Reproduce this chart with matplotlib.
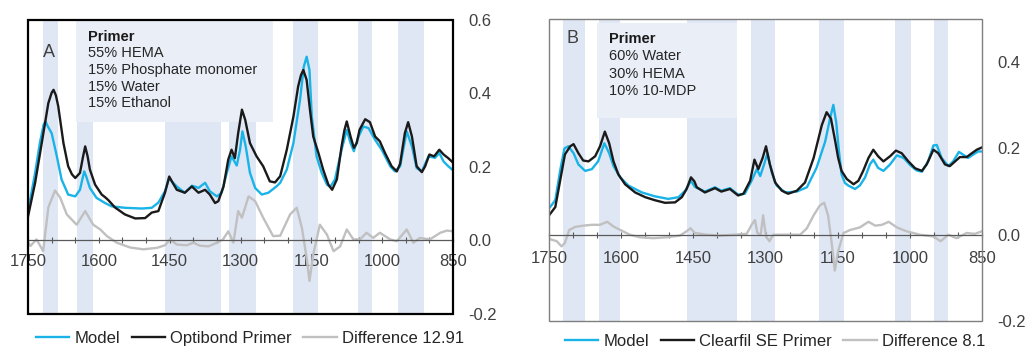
import matplotlib
matplotlib.use('Agg')
import matplotlib.pyplot as plt
from matplotlib.patches import Rectangle

plt.rcParams['font.family'] = ['Liberation Sans', 'DejaVu Sans']

# ---- panel A : Optibond ----
a_model_wn = [1750, 1748, 1735, 1725, 1717, 1713, 1708, 1700, 1689, 1679, 1665, 1650, 1640, 1634, 1631, 1627,
              1619, 1605, 1587, 1573, 1545, 1509, 1488, 1474, 1460, 1451, 1445, 1435, 1418, 1403, 1395, 1389,
              1375, 1365, 1350, 1340, 1329, 1319, 1308, 1301, 1296, 1289, 1280, 1269, 1255, 1241, 1224, 1216,
              1202, 1188, 1174, 1166, 1160, 1154, 1149, 1139, 1128, 1117, 1110, 1100, 1086, 1075, 1067, 1060,
              1050, 1040, 1029, 1015, 1001, 983, 973, 962, 948, 937, 927, 916, 902, 888, 879, 870, 860, 850]
a_model = [0.08, 0.093, 0.184, 0.265, 0.315, 0.324, 0.31, 0.292, 0.229, 0.166, 0.125, 0.12, 0.138, 0.172, 0.188, 0.175,
           0.143, 0.116, 0.102, 0.093, 0.089, 0.087, 0.089, 0.103, 0.134, 0.17, 0.16, 0.147, 0.13, 0.149, 0.146, 0.143,
           0.157, 0.134, 0.12, 0.13, 0.184, 0.229, 0.204, 0.247, 0.297, 0.256, 0.184, 0.143, 0.125, 0.13, 0.147, 0.157,
           0.193, 0.265, 0.383, 0.473, 0.5, 0.464, 0.337, 0.229, 0.184, 0.152, 0.146, 0.166, 0.247, 0.301, 0.265,
           0.243, 0.283, 0.31, 0.306, 0.274, 0.247, 0.202, 0.188, 0.202, 0.297, 0.256, 0.197, 0.188, 0.229, 0.225,
           0.238, 0.215, 0.202, 0.191]

a_exp_wn = [1750, 1746, 1735, 1721, 1707, 1700, 1696, 1691, 1686, 1675, 1665, 1657, 1650, 1640, 1634, 1629, 1624,
            1619, 1608, 1594, 1587, 1580, 1566, 1545, 1523, 1502, 1488, 1474, 1460, 1451, 1445, 1435, 1418, 1403,
            1389, 1375, 1365, 1354, 1347, 1336, 1326, 1319, 1312, 1305, 1297, 1290, 1280, 1266, 1252, 1238, 1227,
            1216, 1202, 1188, 1178, 1172, 1167, 1160, 1153, 1146, 1135, 1125, 1114, 1106, 1096, 1086, 1080, 1075,
            1067, 1060, 1054, 1048, 1036, 1026, 1015, 1005, 994, 980, 969, 962, 952, 945, 937, 927, 916, 909, 900,
            890, 879, 870, 860, 851]
a_exp = [0.066, 0.09, 0.157, 0.265, 0.374, 0.402, 0.41, 0.395, 0.365, 0.265, 0.202, 0.18, 0.17, 0.184, 0.225, 0.256,
         0.23, 0.193, 0.152, 0.125, 0.118, 0.11, 0.09, 0.071, 0.06, 0.061, 0.076, 0.08, 0.13, 0.174, 0.16, 0.138,
         0.13, 0.147, 0.13, 0.138, 0.125, 0.102, 0.107, 0.147, 0.22, 0.247, 0.224, 0.292, 0.356, 0.328, 0.265, 0.229,
         0.202, 0.161, 0.158, 0.175, 0.247, 0.337, 0.419, 0.45, 0.464, 0.437, 0.356, 0.283, 0.238, 0.193, 0.152,
         0.138, 0.166, 0.256, 0.3, 0.324, 0.283, 0.252, 0.265, 0.301, 0.33, 0.322, 0.283, 0.27, 0.238, 0.202, 0.188,
         0.209, 0.292, 0.322, 0.283, 0.202, 0.186, 0.202, 0.234, 0.229, 0.247, 0.234, 0.224, 0.213]

a_diff_wn = [1750, 1745, 1732, 1718, 1707, 1693, 1682, 1668, 1647, 1629, 1612, 1597, 1583, 1562, 1534, 1506, 1477,
             1460, 1449, 1435, 1414, 1400, 1386, 1368, 1350, 1337, 1326, 1315, 1305, 1297, 1283, 1269, 1252, 1231,
             1216, 1195, 1181, 1170, 1160, 1154, 1146, 1132, 1117, 1103, 1089, 1075, 1061, 1047, 1033, 1019, 1005,
             983, 969, 948, 934, 920, 899, 877, 863, 850]
a_diff = [-0.005, -0.015, 0.003, -0.029, 0.09, 0.136, 0.117, 0.071, 0.043, 0.08, 0.043, 0.03, 0.012, -0.006, -0.019,
          -0.024, -0.02, -0.013, 0.003, -0.011, -0.013, -0.006, -0.014, -0.016, -0.006, 0.003, 0.025, -0.006, 0.08,
          0.062, 0.12, 0.107, 0.062, 0.012, 0.013, 0.071, 0.089, 0.034, -0.047, -0.11, -0.038, 0.043, 0.016, -0.029,
          -0.016, 0.03, 0.003, 0.003, 0.021, 0.007, 0.021, 0.003, -0.002, 0.03, -0.006, 0.007, 0.003, 0.021, 0.027,
          0.025]

a_bands = [(1718, 1686), (1646, 1612), (1460, 1341), (1324, 1267), (1189, 1136), (1051, 1021), (966, 911)]
a_labels = ['Model', 'Optibond Primer', 'Difference 12.91']
a_text = ['55% HEMA', '15% Phosphate monomer', '15% Water', '15% Ethanol']

# ---- panel B : Clearfil SE ----
b_model_wn = [1750, 1737, 1727, 1718, 1710, 1699, 1689, 1675, 1661, 1648, 1635, 1625, 1616, 1602, 1585, 1557, 1530,
              1502, 1481, 1467, 1455, 1447, 1426, 1405, 1392, 1374, 1357, 1343, 1329, 1318, 1311, 1303, 1296, 1287,
              1277, 1259, 1235, 1214, 1194, 1176, 1166, 1159, 1153, 1148, 1142, 1135, 1128, 1114, 1104, 1093, 1083,
              1076, 1066, 1055, 1041, 1027, 1013, 999, 986, 975, 962, 951, 944, 934, 920, 910, 898, 887, 879, 868,
              858, 850]
b_model = [0.061, 0.08, 0.148, 0.2, 0.205, 0.189, 0.163, 0.148, 0.152, 0.17, 0.212, 0.189, 0.159, 0.133, 0.114, 0.098,
           0.089, 0.083, 0.087, 0.102, 0.125, 0.111, 0.1, 0.11, 0.102, 0.108, 0.093, 0.095, 0.125, 0.152, 0.136, 0.163,
           0.189, 0.144, 0.114, 0.098, 0.1, 0.11, 0.155, 0.216, 0.269, 0.301, 0.26, 0.2, 0.14, 0.12, 0.114, 0.106,
           0.114, 0.133, 0.163, 0.174, 0.155, 0.148, 0.163, 0.184, 0.178, 0.161, 0.149, 0.146, 0.17, 0.207, 0.208,
           0.178, 0.159, 0.17, 0.192, 0.184, 0.178, 0.186, 0.193, 0.193]

b_exp_wn = [1750, 1737, 1727, 1717, 1706, 1699, 1689, 1679, 1668, 1654, 1644, 1634, 1625, 1616, 1606, 1592, 1571,
            1550, 1530, 1509, 1488, 1474, 1464, 1455, 1448, 1443, 1426, 1405, 1392, 1374, 1357, 1346, 1332, 1323,
            1315, 1306, 1299, 1291, 1280, 1266, 1253, 1235, 1218, 1200, 1183, 1173, 1164, 1155, 1149, 1142, 1131,
            1117, 1107, 1097, 1086, 1076, 1066, 1055, 1041, 1029, 1017, 1003, 989, 975, 965, 951, 941, 927, 917,
            906, 896, 882, 871, 861, 851]
b_exp = [0.045, 0.064, 0.125, 0.186, 0.205, 0.21, 0.189, 0.172, 0.17, 0.182, 0.205, 0.239, 0.212, 0.17, 0.14, 0.117,
         0.098, 0.087, 0.08, 0.074, 0.075, 0.087, 0.106, 0.133, 0.124, 0.11, 0.098, 0.108, 0.1, 0.106, 0.091, 0.095,
         0.125, 0.174, 0.152, 0.178, 0.205, 0.163, 0.121, 0.102, 0.095, 0.102, 0.121, 0.178, 0.254, 0.284, 0.269,
         0.216, 0.178, 0.148, 0.129, 0.117, 0.125, 0.148, 0.178, 0.197, 0.182, 0.17, 0.182, 0.195, 0.189, 0.17,
         0.154, 0.148, 0.163, 0.197, 0.189, 0.163, 0.159, 0.17, 0.18, 0.18, 0.189, 0.197, 0.202]

b_diff_wn = [1749, 1734, 1724, 1717, 1708, 1696, 1679, 1661, 1644, 1629, 1616, 1602, 1582, 1561, 1533, 1506, 1478,
             1464, 1456, 1447, 1422, 1395, 1367, 1339, 1329, 1322, 1317, 1310, 1305, 1299, 1292, 1284, 1256, 1228,
             1214, 1200, 1187, 1178, 1170, 1163, 1156, 1149, 1138, 1124, 1104, 1086, 1072, 1058, 1044, 1027, 1007,
             979, 951, 936, 920, 903, 882, 865, 850]
b_diff = [-0.01, -0.015, -0.027, -0.019, 0.011, 0.018, 0.021, 0.023, 0.023, 0.03, 0.019, 0.011, 0.0, -0.006, -0.008,
          -0.006, -0.002, 0.008, 0.015, 0.004, 0.0, -0.002, 0.0, 0.002, 0.023, 0.034, 0.004, 0.0, 0.045, -0.004,
          -0.015, 0.0, 0.0, 0.0, 0.015, 0.045, 0.068, 0.074, 0.045, -0.015, -0.083, -0.038, 0.004, 0.011, 0.017,
          0.03, 0.021, 0.023, 0.03, 0.017, 0.008, 0.0, -0.004, -0.015, 0.0, -0.008, 0.004, 0.002, 0.008]

b_bands = [(1721, 1675), (1646, 1602), (1463, 1359), (1330, 1280), (1189, 1137), (1031, 998), (950, 921)]
b_labels = ['Model', 'Clearfil SE Primer', 'Difference 8.1']
b_text = ['60% Water', '30% HEMA', '10% 10-MDP']

CYAN = '#1AB3E8'
BLACK = '#1a1a1a'
GREY = '#C0C0C0'
BAND = '#E0E7F4'
BOX = '#EAEEF7'


def panel(ax, model, exp, diff, bands, text, letter, ylim, yticks, box, txt_pos, letter_pos, frame_c, frame_lw, xpad):
    for lo, hi in bands:
        ax.axvspan(hi, lo, color=BAND, lw=0, zorder=0.5)
    ax.add_patch(Rectangle((box[0], box[1]), box[2] - box[0], box[3] - box[1], transform=ax.transAxes,
                           facecolor=BOX, edgecolor='none', zorder=1))
    ax.plot(diff[0], diff[1], color=GREY, lw=1.7, zorder=2, solid_joinstyle='round')
    ax.plot(model[0], model[1], color=CYAN, lw=1.7, zorder=3, solid_joinstyle='round')
    ax.plot(exp[0], exp[1], color=BLACK, lw=1.7, zorder=4, solid_joinstyle='round')

    ax.set_xlim(1750, 850)
    ax.set_ylim(*ylim)
    ticks = list(range(1750, 849, -50))
    ax.set_xticks(ticks)
    ax.set_xticklabels([str(t) if (1750 - t) % 150 == 0 else '' for t in ticks])
    ax.tick_params(axis='x', direction='inout', length=5, width=0.8, color='#595959',
                   labelsize=12, labelcolor='#404040', pad=xpad)
    ax.yaxis.tick_right()
    ax.set_yticks(yticks)
    ax.set_yticklabels(['%.1f' % v for v in yticks])
    ax.tick_params(axis='y', length=0, labelsize=12, labelcolor='#404040', pad=11)

    for s in ['top', 'left', 'right']:
        ax.spines[s].set_visible(False)
    ax.spines['bottom'].set_position(('data', 0))
    ax.spines['bottom'].set_color('#595959')
    ax.spines['bottom'].set_linewidth(0.9)
    ax.spines['bottom'].set_zorder(5)
    ax.add_patch(Rectangle((0, 0), 1, 1, transform=ax.transAxes, fill=False, edgecolor=frame_c,
                           lw=frame_lw, zorder=6, clip_on=False))

    ax.text(letter_pos[0], letter_pos[1], letter, transform=ax.transAxes, fontsize=13,
            color='#404040', va='center', ha='left', zorder=7)
    ax.text(txt_pos[0], txt_pos[1], 'Primer', transform=ax.transAxes, fontsize=10.5,
            fontweight='bold', color='#1a1a1a', va='center', zorder=7)
    for i, line in enumerate(text):
        ax.text(txt_pos[0], txt_pos[1] - (i + 1) * txt_pos[2], line, transform=ax.transAxes,
                fontsize=10.5, color='#262626', va='center', zorder=7)


fig = plt.figure(figsize=(10.27, 3.49), dpi=100)
axA = fig.add_axes([0.0273, 0.1003, 0.4138, 0.8424])
axB = fig.add_axes([0.5346, 0.0802, 0.4216, 0.8653])

panel(axA, (a_model_wn, a_model), (a_exp_wn, a_exp), (a_diff_wn, a_diff), a_bands, a_text, 'A',
      (-0.2, 0.6), [-0.2, 0.0, 0.2, 0.4, 0.6], (0.113, 0.653, 0.576, 0.997),
      (0.141, 0.943, 0.0565), (0.035, 0.888), 'black', 1.6, 7)
panel(axB, (b_model_wn, b_model), (b_exp_wn, b_exp), (b_diff_wn, b_diff), b_bands, b_text, 'B',
      (-0.2, 0.5), [-0.2, 0.0, 0.2, 0.4], (0.111, 0.672, 0.434, 0.987),
      (0.139, 0.935, 0.058), (0.040, 0.934), '#7f7f7f', 1.0, 9)

for ax, labels, pos in [(axA, a_labels, (0.2434, 0.0315)), (axB, b_labels, (0.7546, 0.0229))]:
    handles = ax.get_lines()
    order = [handles[1], handles[2], handles[0]]
    fig.legend(order, labels, loc='center', bbox_to_anchor=pos, ncol=3, frameon=False, fontsize=12,
               handlelength=2.0, handletextpad=0.3, columnspacing=0.7, labelcolor='#262626')

fig.savefig('out.png', dpi=100)
